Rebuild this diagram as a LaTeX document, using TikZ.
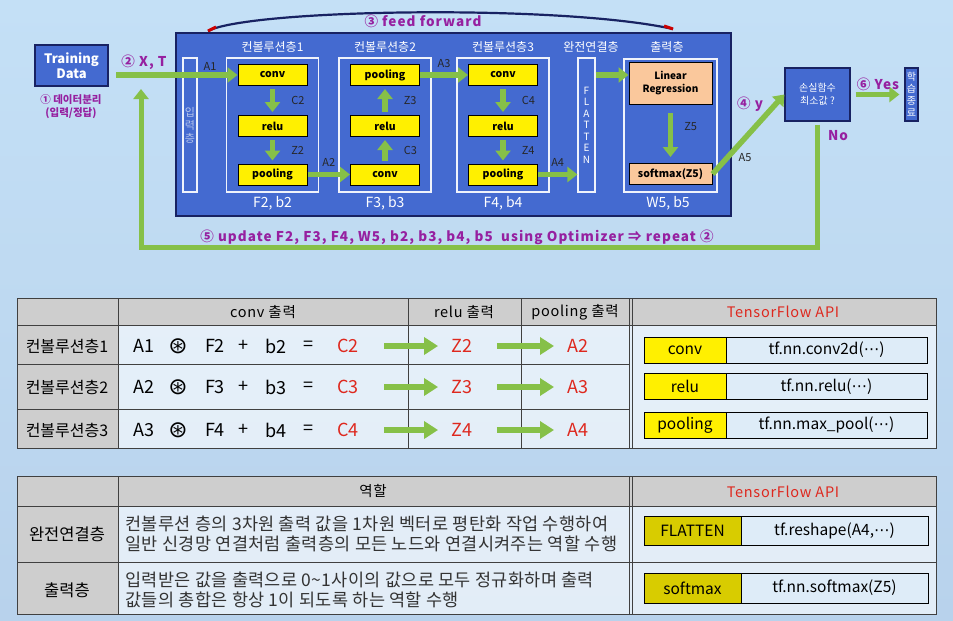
\documentclass[tikz,border=0pt]{standalone}
\usepackage{fontspec}
\setmainfont{Noto Sans CJK KR}
\newfontfamily\symfont{DejaVu Sans}
\usetikzlibrary{arrows.meta,positioning}
\definecolor{bgtop}{RGB}{196,224,246}
\definecolor{bgmid}{RGB}{236,244,252}
\definecolor{bgbot}{RGB}{184,210,236}
\definecolor{cnnblue}{RGB}{68,106,208}
\definecolor{navy}{RGB}{24,34,98}
\definecolor{leafgreen}{RGB}{134,192,72}
\definecolor{plum}{RGB}{150,32,160}
\definecolor{lemon}{RGB}{255,240,0}
\definecolor{mustard}{RGB}{216,204,0}
\definecolor{peach}{RGB}{250,200,156}
\definecolor{cellgray}{RGB}{206,206,206}
\definecolor{apiblue}{RGB}{222,236,248}
\definecolor{apired}{RGB}{222,40,30}

\tikzset{
  panel/.style={draw=navy, line width=1.2pt, fill=cnnblue, inner sep=0pt},
  frame/.style={draw=white!92!cnnblue, line width=1.2pt, inner sep=0pt},
  opbox/.style={draw=black, fill=lemon, line width=1pt, inner sep=0pt,
    minimum width=69pt, minimum height=21pt,
    font=\bfseries\fontsize{10.5}{10.5}\selectfont},
  outbox/.style={opbox, fill=peach, minimum width=83pt},
  gflow/.style={draw=leafgreen, line width=5.5pt, -{Triangle[length=10pt,width=15pt]}},
  tflow/.style={draw=leafgreen, line width=6pt, -{Triangle[length=14pt,width=17pt]}},
  tag/.style={font=\fontsize{11}{11}\selectfont, text=black!85, inner sep=1pt},
  wtitle/.style={text=white, font=\fontsize{12}{12}\selectfont},
  purpnote/.style={text=plum, font=\bfseries\fontsize{13.5}{13.5}\selectfont\addfontfeature{LetterSpace=8}},
  hdr/.style={font=\fontsize{14.5}{14.5}\selectfont\addfontfeature{LetterSpace=5}},
  rowhdr/.style={font=\fontsize{16}{16}\selectfont},
  eq/.style={font=\fontsize{18}{18}\selectfont},
  eqred/.style={eq, text=apired},
  apikey/.style={draw=black, fill=lemon, line width=1pt, minimum width=82pt,
    minimum height=26pt, font=\fontsize{15.5}{15.5}\selectfont},
  apival/.style={draw=black, fill=apiblue, line width=1pt, minimum width=201pt,
    minimum height=26pt, font=\fontsize{15.5}{15.5}\selectfont},
}

\begin{document}
\begin{tikzpicture}[x=1pt,y=-1pt]
  \shade[top color=bgtop, middle color=bgmid, bottom color=bgbot] (0,0) rectangle (953,621);

  \node[panel, minimum width=73pt, minimum height=41pt, text=white, align=center,
        font=\bfseries\fontsize{13}{15}\selectfont] (data) at (71.5,65.5) {Training\\Data};
  \node[purpnote, font=\bfseries\fontsize{10.5}{13}\selectfont, align=center] (split) at (71,107) {① 데이터분리\\(입력/정답)};

  \node[panel, minimum width=555pt, minimum height=183pt] (net) at (453.5,124.5) {};
  \node[frame, minimum width=14pt, minimum height=134pt, text=white!60!cnnblue, align=center,
        font=\fontsize{11}{13}\selectfont] (inp) at (190,125) {입\\력\\층};
  \node[tag] (a1) at (210,66) {A1};
  \foreach \g/\x/\ty/\by in {1/272.5/75/174.5, 2/385/174.5/75, 3/503/75/174.5} {
    \pgfmathtruncatemacro\n{\g+1}
    \node[frame, minimum width=92pt, minimum height=134pt] (grp\g) at (\x,125) {};
    \node[wtitle] (ttl\g) at (\x,47) {컨볼루션층\g};
    \node[wtitle, font=\fontsize{14}{14}\selectfont] (par\g) at (\x,203) {F\n, b\n};
    \node[opbox] (conv\g) at (\x,\ty) {conv};
    \node[opbox] (relu\g) at (\x,126) {relu};
    \node[opbox] (pool\g) at (\x,\by) {pooling};
    \draw[gflow, shorten <=3pt, shorten >=3pt] (conv\g) -- node[tag, right=15pt] {C\n} (relu\g);
    \draw[gflow, shorten <=3pt, shorten >=3pt] (relu\g) -- node[tag, right=15pt] {Z\n} (pool\g);
  }
  \draw[gflow] (pool1) -- node[tag, above=4pt] {A2} (conv2);
  \draw[gflow] (pool2) -- node[tag, above=4pt] {A3} (conv3);
  \node[frame, minimum width=17pt, minimum height=134pt, text=white, align=center,
        font=\fontsize{10}{11.5}\selectfont] (flat) at (586.5,125) {F\\L\\A\\T\\T\\E\\N};
  \draw[gflow] (pool3) -- node[tag, above=4pt] {A4} (pool3 -| flat.west);
  \node[wtitle] (ttlfc) at (591,47) {완전연결층};
  \node[wtitle] (ttlout) at (667,47) {출력층};

  \node[frame, minimum width=93pt, minimum height=133pt] (grp4) at (670.5,125.5) {};
  \node[outbox, minimum height=42pt, align=center, font=\bfseries\fontsize{10}{12.5}\selectfont] (lin) at (670.5,83) {Linear\\Regression};
  \node[outbox] (soft) at (670.5,174) {softmax(Z5)};
  \node[wtitle, font=\fontsize{14}{14}\selectfont] (par4) at (668,203) {W5, b5};
  \draw[gflow] (flat.east |- conv3) -- (lin.west |- conv3);
  \draw[gflow, shorten <=8pt, shorten >=6pt] (lin) -- node[tag, pos=0.37, right=10pt] {Z5} (soft);

  \coordinate (ffa) at (208,31);
  \coordinate (ffb) at (673,29);
  \draw[navy, line width=2.2pt] (ffa) .. controls (250,9) and (560,4) .. (ffb);
  \draw[red!80!black, line width=3pt] (ffa) -- ++(8,-4);
  \draw[red!80!black, line width=3pt] (ffb) -- ++(-9,-3);
  \node[purpnote] (ff) at (423,21) {③ feed forward};

  \coordinate (xt) at (116,75);
  \draw[gflow] (xt) -- (conv1);
  \node[purpnote] (xtlbl) at (144,62) {② X, T};

  \node[panel, minimum width=65pt, minimum height=53pt, text=white, align=center,
        font=\fontsize{10}{13}\selectfont] (loss) at (817.5,94.5) {손실함수\\최소값 ?};
  \node[panel, minimum width=13pt, minimum height=53pt, text=white, align=center,
        font=\fontsize{10}{12}\selectfont] (done) at (911.5,94.5) {학\\습\\종\\료};
  \draw[gflow] (soft.east) -- (loss.west);
  \node[purpnote] (ylbl) at (750,104) {④ y};
  \node[tag] (a5) at (745,158) {A5};
  \draw[gflow, shorten <=5pt, shorten >=5pt] (loss) -- (done);
  \node[purpnote] (yes) at (878,84) {⑥ Yes};
  \node[purpnote] (no) at (838,136) {No};
  \coordinate (fbcorner) at (141,247);
  \coordinate (fbtip) at (141,89);
  \draw[gflow, line width=5pt, shorten <=3pt] (loss.south) |- (fbcorner) -- (fbtip);
  \node[purpnote] (upd) at (457,237) {⑤ update F2, F3, F4, W5, b2, b3, b4, b5 \ using Optimizer ⇒ repeat ②};

  \fill[white, fill opacity=0.6] (17,298) rectangle (936,448);
  \fill[cellgray] (17,298) rectangle (936,325);
  \fill[cellgray] (17,325) rectangle (118,448);
  \foreach \x in {118,408,521,629,632} \draw[black!75, line width=0.8pt] (\x,298) -- (\x,448);
  \foreach \y in {364,409} \draw[black!75, line width=0.8pt] (17,\y) -- (629,\y);
  \draw[black!75, line width=0.8pt] (17,325) -- (936,325);
  \draw[black!75, line width=1pt] (17,298) rectangle (936,448);
  \node[hdr] (hconv) at (263,312) {conv 출력};
  \node[hdr] (hrelu) at (464,312) {relu 출력};
  \node[hdr] (hpool) at (575,312) {pooling 출력};
  \node[hdr, text=apired] (hapi) at (783,312) {TensorFlow API};
  \foreach \r/\y in {1/346,2/387,3/430} {
    \pgfmathtruncatemacro\n{\r+1}
    \node[rowhdr] (row\r) at (67,\y) {컨볼루션층\r};
    \node[eq] (in\r) at (144,\y) {A\r};
    \node[eq, font=\symfont\fontsize{23}{23}\selectfont] (op\r) at (178,\y) {⊛};
    \node[eq] (flt\r) at (215,\y) {F\n};
    \node[eq] (pls\r) at (243,\y) {+};
    \node[eq] (bs\r) at (276,\y) {b\n};
    \node[eq] (eqs\r) at (308,\y) {=};
    \node[eqred] (cv\r) at (348,\y) {C\n};
    \node[eqred] (rl\r) at (462,\y) {Z\n};
    \node[eqred] (po\r) at (578,\y) {A\n};
    \draw[tflow, shorten <=22pt, shorten >=10pt] (cv\r) -- (rl\r);
    \draw[tflow, shorten <=21pt, shorten >=10pt] (rl\r) -- (po\r);
  }
  \foreach \k/\y/\fn in {conv/350/tf.nn.conv2d, relu/386.5/tf.nn.relu, pooling/425/tf.nn.max\_pool} {
    \node[apikey] (key\k) at (685,\y) {\k};
    \node[apival, right=-1pt of key\k] (val\k) {\fn({\symfont ⋯})};
  }

  \fill[white, fill opacity=0.6] (17,476) rectangle (936,614);
  \fill[cellgray] (17,476) rectangle (936,506);
  \fill[cellgray] (17,506) rectangle (118,614);
  \foreach \x in {118,629,632} \draw[black!75, line width=0.8pt] (\x,476) -- (\x,614);
  \foreach \y in {506,562} \draw[black!75, line width=0.8pt] (17,\y) -- (936,\y);
  \draw[black!75, line width=1pt] (17,476) rectangle (936,614);
  \node[hdr] (hrole) at (373,491) {역할};
  \node[hdr, text=apired] (hapi2) at (783,492) {TensorFlow API};
  \node[rowhdr, font=\fontsize{16.5}{16.5}\selectfont] (rowfc) at (67,534) {완전연결층};
  \node[rowhdr, font=\fontsize{16.5}{16.5}\selectfont] (rowout) at (67,590) {출력층};
  \node[anchor=west, align=left, text=black!80, font=\fontsize{17.5}{20.5}\selectfont\addfontfeature{LetterSpace=2}] (rolefc) at (122,534)
    {컨볼루션 층의 3차원 출력 값을 1차원 벡터로 평탄화 작업 수행하여\\일반 신경망 연결처럼 출력층의 모든 노드와 연결시켜주는 역할 수행};
  \node[anchor=west, align=left, text=black!80, font=\fontsize{17.5}{20.5}\selectfont\addfontfeature{LetterSpace=2}] (roleout) at (122,590)
    {입력받은 값을 출력으로 0\textasciitilde 1사이의 값으로 모두 정규화하며 출력\\값들의 총합은 항상 1이 되도록 하는 역할 수행};
  \node[apikey, fill=mustard, minimum width=97pt, minimum height=29pt] (keyflat) at (692.5,530.5) {FLATTEN};
  \node[apival, minimum width=187pt, minimum height=29pt, right=-1pt of keyflat] (valflat) {tf.reshape(A4,{\symfont ⋯})};
  \node[apikey, fill=mustard, minimum width=97pt, minimum height=30pt] (keysoft) at (692.5,588) {softmax};
  \node[apival, minimum width=187pt, minimum height=30pt, right=-1pt of keysoft] (valsoft) {tf.nn.softmax(Z5)};
\end{tikzpicture}
\end{document}
